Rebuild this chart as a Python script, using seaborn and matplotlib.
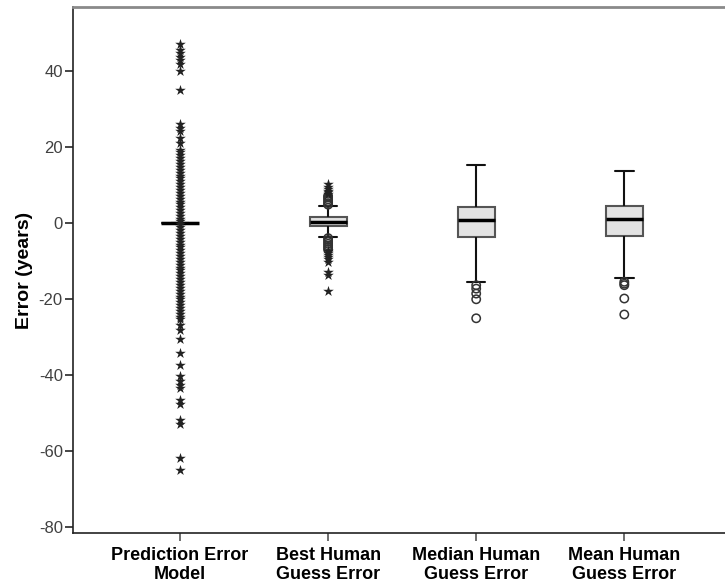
import matplotlib
matplotlib.use("Agg")
import matplotlib.pyplot as plt
import seaborn as sns
import pandas as pd

# Categories (x axis)
groups = ["Prediction Error\nModel", "Best Human\nGuess Error",
          "Median Human\nGuess Error", "Mean Human\nGuess Error"]

# Box summaries per group: lower whisker, Q1, median, Q3, upper whisker
whisker_low = [0.0, -3.6, -15.5, -14.4]
q1 = [0.0, -0.7, -3.7, -3.5]
median = [0.0, 0.2, 0.8, 1.0]
q3 = [0.0, 1.5, 4.3, 4.5]
whisker_high = [0.0, 4.4, 15.2, 13.6]

# Extreme outliers (stars)
model_extreme = [47.0, 45.6, 44.6, 43.7, 42.8, 41.8, 40.0, 35.0, 25.9, 25.0,
                 24.1, 22.4, 20.9, 19.3, 18.6, 17.8, 17.1, 16.2, 15.5, 14.8,
                 14.0, 13.1, 12.4, 11.7, 10.9, 10.2, 9.4, 8.6, 7.9, 7.2, 6.4,
                 5.6, 4.9, 4.1, 3.3, 2.6, 1.8, 1.1, 0.4, -0.4, -1.1, -1.9,
                 -2.6, -3.4, -4.2, -4.9, -5.7, -6.4, -7.2, -8.0, -8.7, -9.5,
                 -10.2, -11.0, -11.8, -12.5, -13.3, -14.0, -14.8, -15.6,
                 -16.3, -17.1, -17.8, -18.6, -19.4, -20.1, -20.9, -21.6,
                 -22.4, -23.2, -23.9, -24.7, -25.4, -26.8, -28.3, -30.5,
                 -34.2, -37.3, -40.3, -41.5, -42.6, -43.4, -46.5, -47.6,
                 -51.8, -52.8, -61.9, -65.1]
best_extreme = [7.5, 8.0, 8.5, 9.0, 9.5, 10.2, -7.5, -8.0, -8.5, -9.0, -9.5,
                -10.3, -12.8, -13.6, -17.8]

# Mild outliers (circles)
best_mild = [4.8, 5.2, 5.7, 6.2, 6.7, 7.1, -4.0, -4.5, -5.0, -5.5, -6.0,
             -6.5, -7.0]
median_mild = [-16.4, -17.3, -18.6, -20.1, -25.1]
mean_mild = [-15.5, -16.0, -16.4, -19.9, -24.1]

yticks = [-80, -60, -40, -20, 0, 20, 40]

# Long-form tables
box_rows = []
for g, a, b, c, d, e in zip(groups, whisker_low, q1, median, q3, whisker_high):
    for v in (a, b, c, d, e):
        box_rows.append({"group": g, "value": v})
box_df = pd.DataFrame(box_rows)

star_df = pd.DataFrame(
    [{"group": groups[0], "value": v} for v in model_extreme]
    + [{"group": groups[1], "value": v} for v in best_extreme])
circle_df = pd.DataFrame(
    [{"group": groups[1], "value": v} for v in best_mild]
    + [{"group": groups[2], "value": v} for v in median_mild]
    + [{"group": groups[3], "value": v} for v in mean_mild])

sns.set_style("ticks")
plt.rcParams["font.family"] = ["Liberation Sans", "DejaVu Sans"]

fig = plt.figure(figsize=(7.25, 5.87), dpi=100)
ax = fig.add_axes([0.101, 0.092, 0.899, 0.896])

sns.boxplot(data=box_df, x="group", y="value", order=groups, ax=ax,
            whis=(0, 100), showfliers=False, width=0.25,
            color="#e3e3e3", saturation=1, linecolor="#111111",
            linewidth=1.5,
            boxprops=dict(edgecolor="#555555", linewidth=1.5),
            medianprops=dict(color="black", linewidth=2.5),
            zorder=2)

sns.stripplot(data=circle_df, x="group", y="value", order=groups, ax=ax,
              jitter=False, marker="o", size=6, facecolor="none",
              edgecolor="#333333", linewidth=1.1, zorder=3)
sns.stripplot(data=star_df, x="group", y="value", order=groups, ax=ax,
              jitter=False, marker="*", size=8, color="#222222",
              linewidth=0, zorder=4)

ax.set_xlim(-0.721, 3.68)
ax.set_ylim(-81.6, 56.8)
ax.set_yticks(yticks)
ax.set_yticklabels([str(t) for t in yticks])

ax.set_xlabel("")
ax.set_ylabel("Error (years)", fontsize=14, fontweight="bold", labelpad=4,
              color="black")

ax.tick_params(axis="y", direction="out", length=6, width=1.2,
               labelsize=12, labelcolor="#404040", pad=1.5)
ax.tick_params(axis="x", direction="out", length=6, width=1.2,
               labelsize=13, pad=4, colors="#555555", labelcolor="black")
for lab in ax.get_xticklabels():
    lab.set_fontweight("bold")
    lab.set_linespacing(1.15)

ax.spines["right"].set_visible(False)
ax.spines["top"].set_color("#8a8a8a")
ax.spines["top"].set_linewidth(2)
ax.spines["left"].set_color("#222222")
ax.spines["left"].set_linewidth(1.2)
ax.spines["bottom"].set_color("#222222")
ax.spines["bottom"].set_linewidth(1.2)

fig.savefig("out.png", dpi=100)
